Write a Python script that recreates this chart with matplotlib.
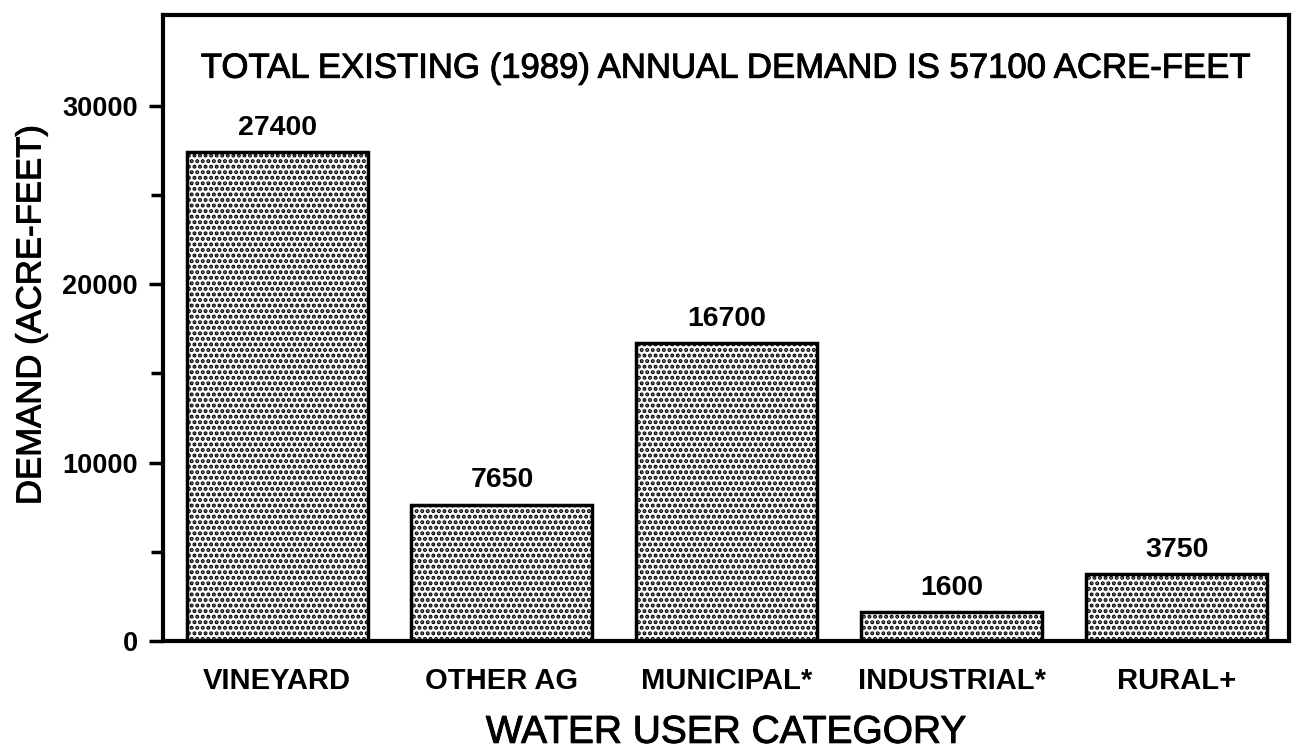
import matplotlib
matplotlib.use("Agg")
import matplotlib.pyplot as plt
import matplotlib.patheffects as pe

categories = ["VINEYARD", "OTHER AG", "MUNICIPAL*", "INDUSTRIAL*", "RURAL+"]
values = [27400, 7650, 16700, 1600, 3750]
value_labels = ["27400", "7650", "16700", "1600", "3750"]
yticks = [0, 10000, 20000, 30000]
yminor = [5000, 15000, 25000]
title_text = "TOTAL EXISTING (1989) ANNUAL DEMAND IS 57100 ACRE-FEET"

plt.rcParams['font.family'] = ['Liberation Sans', 'DejaVu Sans']
plt.rcParams['hatch.linewidth'] = 2.0
plt.rcParams['hatch.color'] = 'black'

fig = plt.figure(figsize=(12.92, 7.5), dpi=100)
ax = fig.add_axes([163/1292, 1 - 641/750, (1289-163)/1292, (641-15)/750])

x = list(range(len(categories)))
ax.bar(x, values, width=0.805, facecolor='white', edgecolor='black',
       linewidth=2.5, hatch='...', zorder=2)

for xi, v, lab in zip(x, values, value_labels):
    ax.annotate(lab, (xi, v), xytext=(0, 8), textcoords='offset points',
                ha='center', va='bottom', fontsize=20.5, fontweight='bold')

ax.set_xlim(-0.507, 4.5)
ax.set_ylim(0, 35100)
ax.set_yticks(yticks)
ax.set_yticklabels([str(t) for t in yticks], fontsize=19.5, fontweight='bold')
ax.set_yticks(yminor, minor=True)
ax.tick_params(axis='y', which='major', direction='out', length=10, width=2.5, pad=8)
ax.tick_params(axis='y', which='minor', direction='out', length=9, width=2.5)
ax.set_xticks(x)
ax.set_xticklabels(categories, fontsize=21, fontweight='bold')
ax.tick_params(axis='x', length=0, pad=19)
for s in ax.spines.values():
    s.set_linewidth(3)

heavy = [pe.withStroke(linewidth=0.7, foreground='black')]
ax.text(0.5, 0.915, title_text, transform=ax.transAxes, ha='center', va='center',
        fontsize=25, path_effects=heavy)
ax.set_xlabel("WATER USER CATEGORY", fontsize=28, labelpad=14, path_effects=heavy)
ax.set_ylabel("DEMAND (ACRE-FEET)", fontsize=25, path_effects=heavy)
ax.yaxis.set_label_coords(-0.1026, (641 - 315) / 626)

fig.savefig("out.png", dpi=100)
